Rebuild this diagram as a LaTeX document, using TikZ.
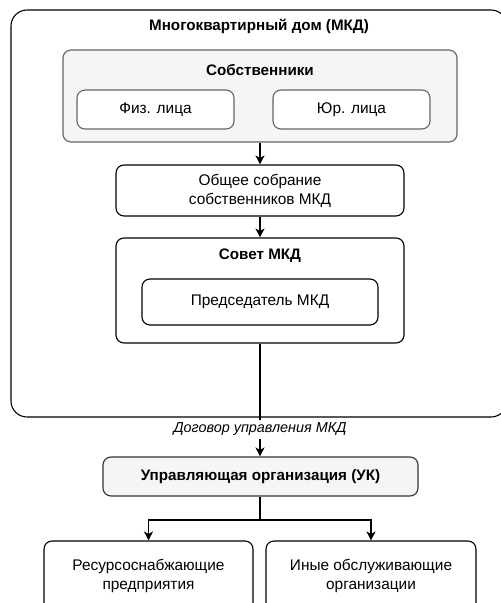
\documentclass[tikz,border=0pt]{standalone}
\usepackage{fontspec}
\setmainfont{Liberation Sans}
\usetikzlibrary{arrows.meta}
\definecolor{boxgray}{HTML}{F5F5F5}
\definecolor{bordgray}{HTML}{666666}
\definecolor{darkline}{HTML}{333333}
\tikzset{
  every node/.style={font=\fontsize{15.4}{19}\selectfont, align=center, inner sep=0pt},
  plainbox/.style={draw=black, line width=1.1pt, rounded corners=8pt, fill=white},
  graybox/.style={draw=bordgray, line width=1.1pt, rounded corners=8pt, fill=boxgray},
  subbox/.style={draw=bordgray, line width=1.1pt, rounded corners=8pt, fill=white},
  ukbox/.style={draw=darkline, line width=1.1pt, rounded corners=8pt, fill=boxgray},
  conn/.style={line width=1.1pt, -{Stealth[length=9pt,width=9pt,inset=2.5pt]}},
  plainconn/.style={line width=1.1pt},
  ttl/.style={font=\bfseries\fontsize{15.2}{19}\selectfont},
}
\begin{document}
\begin{tikzpicture}[x=1pt,y=-1pt]
\useasboundingbox (0,0) rectangle (501,603);
\clip (0,0) rectangle (501,603);
% outer house
\node[plainbox, rounded corners=16pt, minimum width=496pt, minimum height=407pt] (mkd) at (259,213.5) {};
\node[ttl] (mkdt) at (259,26) {Многоквартирный дом (МКД)};
% owners
\node[graybox, minimum width=394pt, minimum height=92pt] (own) at (260,96) {};
\node[ttl] (ownt) at (260,70) {Собственники};
\node[subbox, minimum width=157pt, minimum height=39pt] (fiz) at (155.5,109.5) {Физ. лица};
\node[subbox, minimum width=157pt, minimum height=39pt] (yur) at (351.5,109.5) {Юр. лица};
% general meeting
\node[plainbox, minimum width=288pt, minimum height=51pt] (meet) at (260,190.5) {Общее собрание\\собственников МКД};
% council
\node[plainbox, minimum width=288pt, minimum height=105pt] (sov) at (260,290.5) {};
\node[ttl] (sovt) at (260,256) {Совет МКД};
\node[plainbox, minimum width=236pt, minimum height=46pt] (pred) at (260,302) {Председатель МКД};
% management company
\node[ukbox, minimum width=315pt, minimum height=39pt, font=\bfseries\fontsize{15.2}{19}\selectfont] (uk) at (260.5,476.5) {Управляющая организация (УК)};
\node[plainbox, minimum width=209pt, minimum height=70pt] (res) at (148.5,576) {Ресурсоснабжающие\\предприятия};
\node[plainbox, minimum width=210pt, minimum height=70pt] (iny) at (371,576) {Иные обслуживающие\\организации};
% connectors
\draw[conn] (own.south) -- (meet.north);
\draw[conn] (meet.south) -- (sov.north);
\draw[conn] (sov.south) -- node[fill=white, inner sep=3pt, font=\itshape\fontsize{14.4}{17}\selectfont, pos=0.76] (lab) {Договор управления МКД} (uk.north -| sov.south);
\coordinate (j) at (260,520);
\draw[plainconn] (uk.south -| j) -- (j);
\draw[conn] (j) -| (res.north);
\draw[conn] (j) -| (iny.north);
\end{tikzpicture}
\end{document}
